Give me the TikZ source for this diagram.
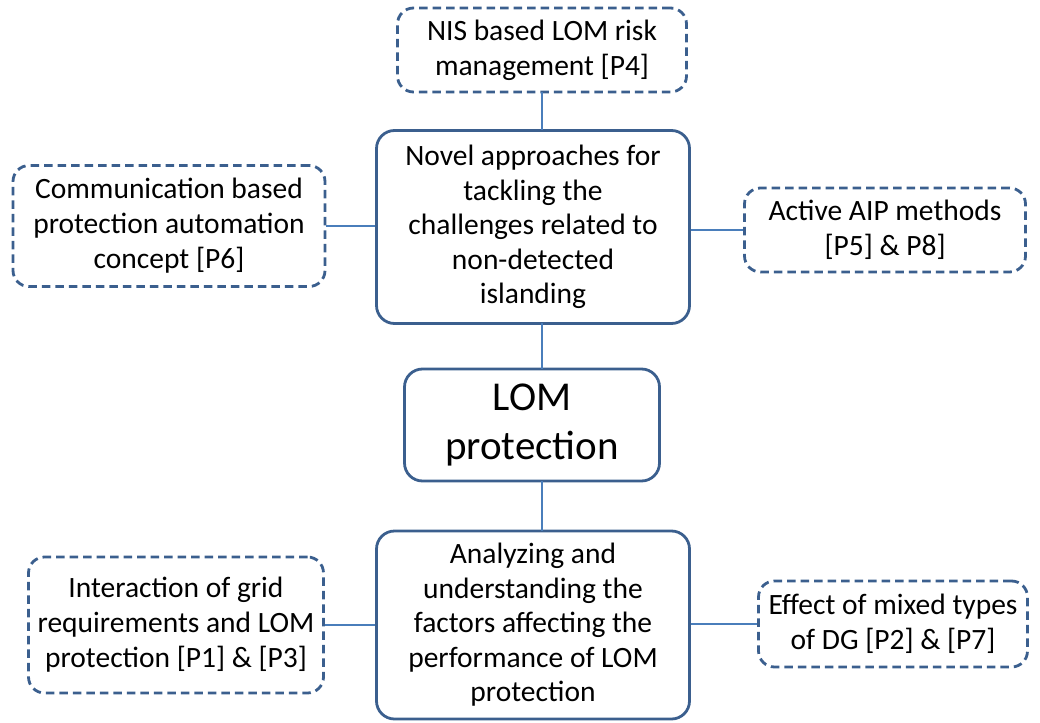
\documentclass[tikz,border=0pt]{standalone}
\usepackage{fontspec}
\setmainfont{Carlito}
\definecolor{boxline}{HTML}{3B5F8E}
\definecolor{linkline}{HTML}{4A7EBB}
\begin{document}
\begin{tikzpicture}[x=1pt,y=-1pt,
  base/.style={draw=boxline, line width=2.8pt, rounded corners=18pt, align=center,
    inner sep=0pt, font=\fontsize{29.5}{35}\selectfont, text=black},
  solidbox/.style={base},
  dashbox/.style={base, dash pattern=on 8.5pt off 5pt, rounded corners=16pt},
  link/.style={draw=linkline, line width=1.4pt}]
\useasboundingbox (0,0) rectangle (1040,722);
% peripheral topics
\node[dashbox, minimum width=289pt, minimum height=84pt] (nis) at (542,50)
  {NIS based LOM risk\\management [P4]};
\node[dashbox, minimum width=312pt, minimum height=121pt] (comm) at (169,226)
  {Communication based\\protection automation\\concept [P6]};
\node[dashbox, minimum width=281pt, minimum height=84pt] (aip) at (885,230)
  {Active AIP methods\\{}[P5] \& P8]};
\node[dashbox, minimum width=295pt, minimum height=136pt] (grid) at (176,625)
  {Interaction of grid\\requirements and LOM\\protection [P1] \& [P3]};
\node[dashbox, minimum width=269pt, minimum height=86pt] (dg) at (893,624)
  {Effect of mixed types\\of DG [P2] \& [P7]};
% central topics
\node[solidbox, minimum width=313pt, minimum height=193pt,
  font=\fontsize{29.5}{34.5}\selectfont] (novel) at (533,227)
  {Novel approaches for\\tackling the\\challenges related to\\non-detected\\islanding};
\node[solidbox, minimum width=255pt, minimum height=112pt,
  font=\fontsize{41}{49}\selectfont] (lom) at (532,425) {LOM\\protection};
\node[solidbox, minimum width=313pt, minimum height=188pt,
  font=\fontsize{29.5}{34.5}\selectfont] (anal) at (533,625)
  {Analyzing and\\understanding the\\factors affecting the\\performance of LOM\\protection};
% connectors
\coordinate (nisb) at (542,92);
\coordinate (novt) at (542,130);
\coordinate (novb) at (542,323);
\coordinate (lomt) at (542,369);
\coordinate (lomb) at (542,481);
\coordinate (analt) at (542,531);
\draw[link] (nisb) -- (novt);
\draw[link] (novb) -- (lomt);
\draw[link] (lomb) -- (analt);
\draw[link] (comm.east) -- (comm.east -| novel.west);
\draw[link] (aip.west) -- (aip.west -| novel.east);
\draw[link] (grid.east) -- (grid.east -| anal.west);
\draw[link] (dg.west) -- (dg.west -| anal.east);
\end{tikzpicture}
\end{document}
